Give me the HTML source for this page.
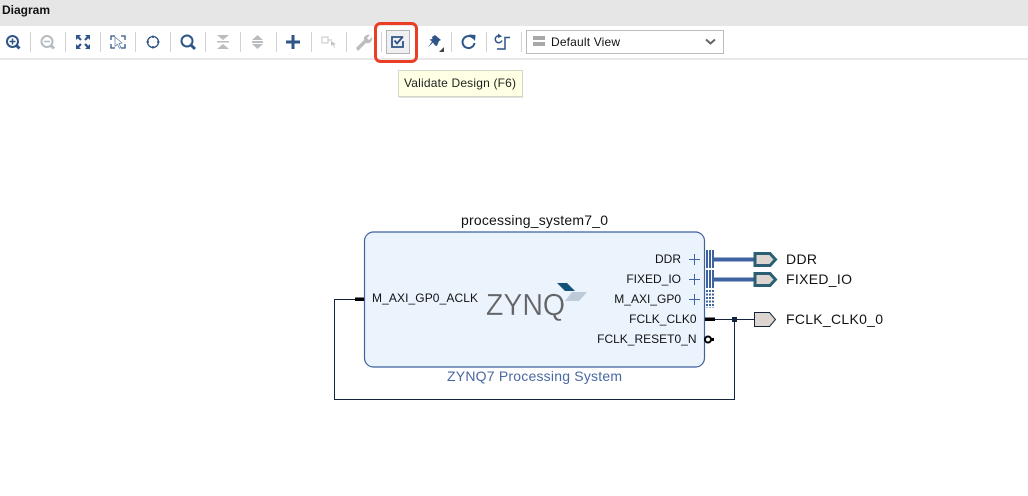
<!DOCTYPE html>
<html><head><meta charset="utf-8"><style>
html,body{margin:0;padding:0;background:#fff;width:1028px;height:496px;overflow:hidden}
svg{display:block}
text{font-family:"Liberation Sans",sans-serif}
</style></head><body>
<svg width="1028" height="496" viewBox="0 0 1028 496" xmlns="http://www.w3.org/2000/svg">
<rect width="1028" height="496" fill="#fff"/>
<rect width="1028" height="26" fill="#e6e6e6"/>
<rect y="58" width="1028" height="2" fill="#e8e8e8"/>
<text x="2" y="14" font-size="12" font-weight="bold" fill="#111">Diagram</text>
<g fill="#d2d2d2">
<rect x="30" y="32" width="1" height="20"/><rect x="65" y="32" width="1" height="20"/><rect x="100" y="32" width="1" height="20"/><rect x="135" y="32" width="1" height="20"/><rect x="170" y="32" width="1" height="20"/><rect x="205" y="32" width="1" height="20"/><rect x="240" y="32" width="1" height="20"/><rect x="276" y="32" width="1" height="20"/><rect x="311" y="32" width="1" height="20"/><rect x="346" y="32" width="1" height="20"/><rect x="381" y="32" width="1" height="20"/><rect x="451" y="32" width="1" height="20"/><rect x="486" y="32" width="1" height="20"/><rect x="521" y="32" width="1" height="20"/>
</g>
<!-- zoom in -->
<g fill="none" stroke="#2f5488" stroke-width="2"><circle cx="12.500" cy="41.500" r="5.500"/><path d="M16.500 45.500L19.500 48.500" stroke-width="3"/><path d="M9.500 41.500h6M12.500 38.500v6" stroke-width="1.500"/></g>
<!-- zoom out -->
<g fill="none" stroke="#b5bcc0" stroke-width="2"><circle cx="47" cy="41.500" r="5.500"/><path d="M51 45.500L54 48.500" stroke-width="3"/><path d="M44 41.500h6" stroke-width="1.500"/></g>
<!-- fit -->
<g fill="none" stroke="#2f5488" stroke-width="2.200"><path d="M77 36l4 4M89 36l-4 4M77 48l4-4M89 48l-4-4"/></g>
<g fill="#2f5488"><path d="M76 35h5l-5 5zM90 35h-5l5 5zM76 49h5l-5-5zM90 49h-5l5-5z"/></g>
<!-- zoom selection -->
<g fill="none" stroke="#2f5488" stroke-width="1.300"><path d="M115 36h-4v4M121 36h4v4M111 44v4h4M125 44v4h-4"/></g>
<path d="M115 37l7 6-3 .5 2 4-1.500.8-2-4-2.500 2z" fill="#fff" stroke="#5c78a4" stroke-width=".7"/>
<!-- center -->
<g fill="none" stroke="#2f5488"><circle cx="153" cy="42" r="5.500" stroke-width="1.300"/><path d="M153 35.500v2.500M153 46v2.500M146.500 42h2.500M157 42h2.500" stroke-width="1.500"/></g>
<!-- search -->
<g fill="none" stroke="#2f5488"><circle cx="187" cy="41" r="5.500" stroke-width="2"/><path d="M191 45l4 4" stroke-width="3"/></g>
<!-- collapse / expand -->
<g fill="#b9bdc0"><rect x="217" y="41" width="12" height="1.500"/><path d="M217 35h12l-6 5zM217 49h12l-6-5z"/><path d="M252 40l5.500-5 5.500 5zM252 44l5.500 5 5.500-5z"/><rect x="252" y="41" width="11" height="2"/></g>
<!-- plus -->
<path d="M293 35v14M286 42h14" stroke="#2f5488" stroke-width="3" fill="none"/>
<!-- add module -->
<g fill="none" stroke="#c4c4c4"><rect x="322" y="37" width="6" height="6"/><path d="M328 40h4"/></g>
<path d="M331 41l5 3-2 .5 1 3-1 .3-1-3-2 1z" fill="#c4c4c4"/>
<!-- wrench -->
<path d="M356 48l8-8c-1-3 2-6 6-5l-3 3 2 2 3-3c1 4-2 7-6 6l-8 8z" fill="#bdbdbd"/>
<!-- validate -->
<rect x="386.500" y="30.500" width="23" height="23" fill="#eef0f2" stroke="#b5b5b5"/>
<path d="M402 37h-10v10h11v-6" fill="none" stroke="#2f5488" stroke-width="1.800"/>
<path d="M394.500 40.500l2.500 3 6-7" fill="none" stroke="#2f5488" stroke-width="1.800"/>
<rect x="375.500" y="23.500" width="41" height="38" rx="5" fill="none" stroke="#ea3f24" stroke-width="3"/>
<!-- pin -->
<path d="M432 37l3-2 6 5-2 1-2 5-2-.5-2-3-5 5 4-6-2.500-2 3-.5z" fill="#2f5488"/>
<path d="M444 52h-5l5-5z" fill="#444"/>
<!-- refresh -->
<path d="M473 38a6 6 0 1 0 1.500 5" fill="none" stroke="#2f5488" stroke-width="2"/><path d="M469 34.500l6.500 .5-.5 6z" fill="#2f5488"/>
<!-- regenerate -->
<g fill="none" stroke="#2f5488" stroke-width="1.500"><path d="M497 49h8V37.500h5"/><path d="M501 36.500a3.500 3.500 0 1 0 1 4"/></g>
<path d="M498 33.500l4 3-4 1.500z" fill="#2f5488"/>
<!-- dropdown -->
<rect x="526.500" y="30.500" width="197" height="23" fill="#fff" stroke="#bcbcbc"/>
<rect x="533" y="36" width="12" height="4" fill="#a8a8a8"/><rect x="533" y="42" width="12" height="4" fill="#a8a8a8"/>
<text x="551" y="46" font-size="12" fill="#111" textLength="69" lengthAdjust="spacing">Default View</text>
<path d="M706 39.500l4.500 4 4.500-4" fill="none" stroke="#666" stroke-width="2"/>
<!-- tooltip -->
<rect x="399" y="71" width="124" height="27" fill="#e2e2e2"/>
<rect x="398.500" y="70.500" width="124" height="26" fill="#ffffe4" stroke="#d6d6c6"/>
<text x="404" y="87" font-size="12" fill="#222" textLength="112" lengthAdjust="spacing">Validate Design (F6)</text>

<!-- block -->
<text x="461" y="225" font-size="14" fill="#111" textLength="147" lengthAdjust="spacing">processing_system7_0</text>
<rect x="364.500" y="232" width="340" height="135" rx="9" fill="#ebf3fd" stroke="#3f62a0" stroke-width="1.200"/>
<text x="447" y="381" font-size="14" fill="#4a68a4" textLength="175" lengthAdjust="spacing">ZYNQ7 Processing System</text>
<!-- logo -->
<text x="486" y="315" font-size="31" fill="#636466" stroke="#ebf3fd" stroke-width=".25" textLength="79" lengthAdjust="spacingAndGlyphs">ZYNQ</text>
<path d="M557 283h10l8 8h-10z" fill="#11527a"/>
<path d="M572 292h15l-8 9h-14z" fill="#bccbd7"/>
<!-- port labels -->
<g font-size="12" fill="#111">
<text x="372" y="302" textLength="106" lengthAdjust="spacing">M_AXI_GP0_ACLK</text>
<text x="681" y="263" text-anchor="end">DDR</text>
<text x="681" y="283" text-anchor="end">FIXED_IO</text>
<text x="681" y="303" text-anchor="end">M_AXI_GP0</text>
<text x="696.500" y="323" text-anchor="end">FCLK_CLK0</text>
<text x="696.500" y="343" text-anchor="end">FCLK_RESET0_N</text>
</g>
<!-- plus marks -->
<g stroke="#3f62a0" stroke-width="1" fill="none"><path d="M689 259.500h11M694.500 254v11M689 279.500h11M694.500 274v11M689 299.500h11M694.500 294v11"/></g>
<!-- bus bars -->
<g fill="#3f62a0">
<rect x="706" y="250" width="2" height="18"/><rect x="709" y="250" width="2" height="18"/><rect x="712" y="250" width="2" height="18"/>
<rect x="706" y="270" width="2" height="18"/><rect x="709" y="270" width="2" height="18"/><rect x="712" y="270" width="2" height="18"/>
</g>
<path d="M707 290v18M710 290v18M713 290v18" stroke="#3f62a0" stroke-width="2" stroke-dasharray="2 1.500" fill="none"/>
<!-- bus wires -->
<rect x="714" y="257" width="41" height="5" fill="#9fb1d2"/><rect x="714" y="258" width="41" height="3" fill="#3f62a0"/>
<rect x="714" y="277" width="41" height="5" fill="#9fb1d2"/><rect x="714" y="278" width="41" height="3" fill="#3f62a0"/>
<g fill="#dcd5d0" stroke="#2b5f73" stroke-width="3">
<path d="M755 253.500h15l5.500 6-5.500 6h-15z"/>
<path d="M755 273.500h15l5.500 6-5.500 6h-15z"/>
</g>
<!-- clock net -->
<g fill="none" stroke="#14243c" stroke-width="1">
<path d="M715 319.500h39M734.500 319.500V399.500H334.500V299.500H355"/>
</g>
<rect x="705" y="317.500" width="10" height="3.500" fill="#000"/>
<rect x="355" y="297.500" width="9" height="3.500" fill="#000"/>
<rect x="732" y="317" width="5" height="5" fill="#14243c"/>
<path d="M754.500 312.500h15l6 7-6 7h-15z" fill="#dcd5d0" stroke="#14243c" stroke-width="1"/>
<circle cx="708" cy="339.500" r="3" fill="none" stroke="#000" stroke-width="2"/>
<rect x="711" y="338" width="3" height="3" fill="#000"/>
<!-- external labels -->
<g font-size="14" fill="#111">
<text x="786" y="264" textLength="31" lengthAdjust="spacing">DDR</text>
<text x="786" y="284" textLength="66" lengthAdjust="spacing">FIXED_IO</text>
<text x="786" y="324" textLength="97" lengthAdjust="spacing">FCLK_CLK0_0</text>
</g>
</svg>
</body></html>
